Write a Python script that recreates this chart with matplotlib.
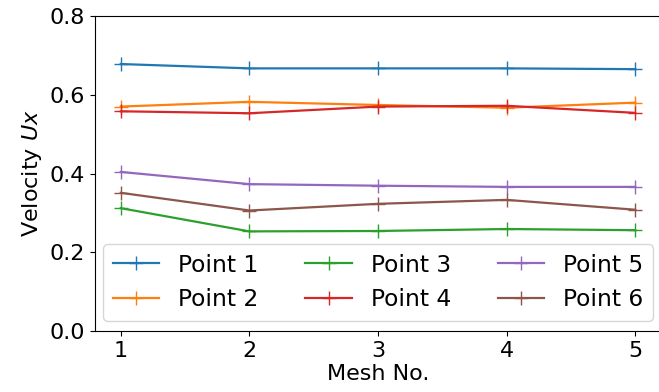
import matplotlib
matplotlib.use("Agg")
import matplotlib.pyplot as plt

mesh = [1, 2, 3, 4, 5]
labels = ["Point 1", "Point 2", "Point 3", "Point 4", "Point 5", "Point 6"]
point1 = [0.678, 0.667, 0.667, 0.667, 0.665]
point2 = [0.570, 0.582, 0.574, 0.567, 0.580]
point3 = [0.312, 0.253, 0.254, 0.259, 0.256]
point4 = [0.558, 0.553, 0.570, 0.572, 0.554]
point5 = [0.404, 0.373, 0.369, 0.366, 0.366]
point6 = [0.351, 0.306, 0.323, 0.333, 0.308]
series = [point1, point2, point3, point4, point5, point6]
colors = ["#1f77b4", "#ff7f0e", "#2ca02c", "#d62728", "#9467bd", "#8c564b"]

plt.rcParams["font.size"] = 16

fig = plt.figure(figsize=(6.59, 3.92), dpi=100)
ax = fig.add_axes([95 / 659, 61 / 392, 566 / 659, 315 / 392])

for vals, lab, c in zip(series, labels, colors):
    ax.plot(mesh, vals, marker="+", markersize=10, color=c, label=lab, linewidth=1.6)

ax.set_ylim(0, 0.8)
ax.set_yticks([0.0, 0.2, 0.4, 0.6, 0.8])
ax.set_xticks(mesh)
ax.set_xlabel("Mesh No.", fontsize=16, labelpad=2)
ax.set_ylabel("Velocity $Ux$", fontsize=16)
ax.tick_params(labelsize=16)
ax.legend(ncol=3, loc="lower center", fontsize=16.8, borderaxespad=0.45)

fig.savefig("out.png", dpi=100)
